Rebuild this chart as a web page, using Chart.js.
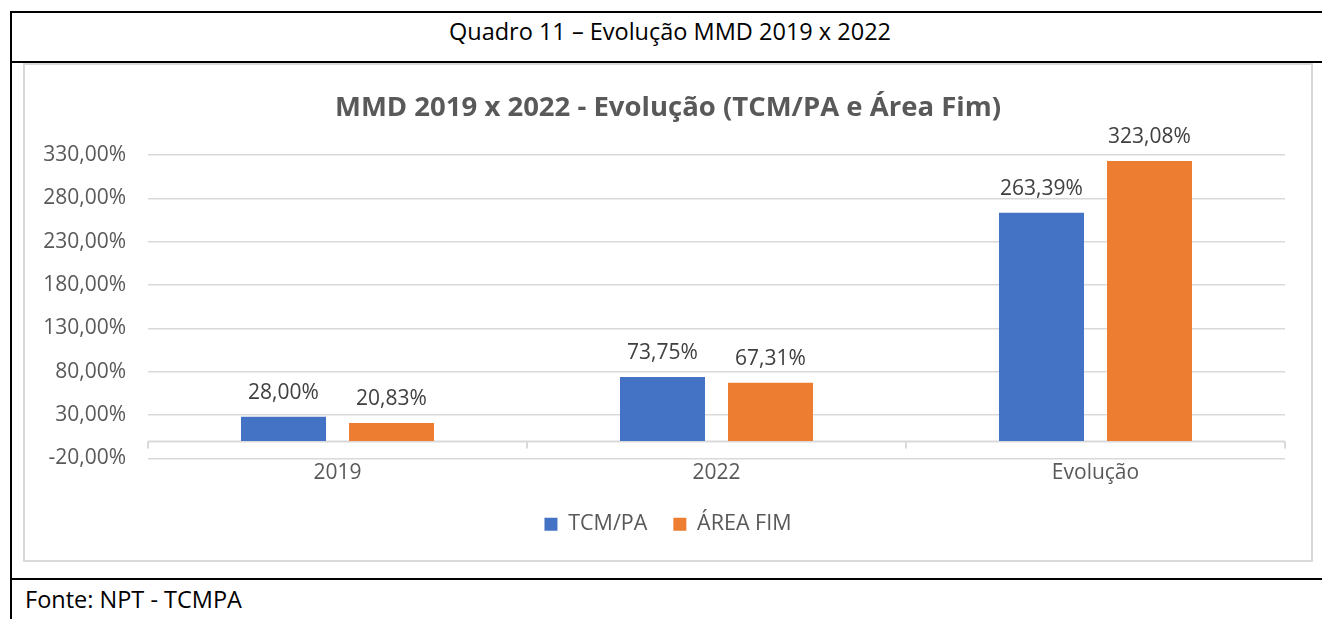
<!DOCTYPE html>
<html lang="pt-BR">
<head>
<meta charset="utf-8">
<title>Quadro 11 – Evolução MMD 2019 x 2022</title>
<script src="https://cdn.jsdelivr.net/npm/chart.js@4.4.1/dist/chart.umd.min.js"></script>
<style>
  body { margin: 0; background: #fff; font-family: "Open Sans", sans-serif; overflow: hidden; }
  .rule { position: absolute; background: #000; }
  #header { position: absolute; left: 15px; top: 15px; width: 1310px; text-align: center; font-size: 23.5px; color: #000; }
  #box { position: absolute; left: 23px; top: 63px; width: 1290px; height: 499px; border: 2px solid #d9d9d9; box-sizing: border-box; }
  #chart { position: absolute; left: 0; top: 0; }
  #fonte { position: absolute; left: 25px; top: 583px; font-size: 23.5px; color: #000; }
</style>
</head>
<body>
<div class="rule" style="left:10px;top:11px;width:2px;height:608px"></div>
<div class="rule" style="left:10px;top:11px;width:1312px;height:2px"></div>
<div class="rule" style="left:10px;top:61px;width:1312px;height:2px"></div>
<div class="rule" style="left:10px;top:578px;width:1312px;height:2px"></div>
<div id="header">Quadro 11 – Evolução MMD 2019 x 2022</div>
<div id="box"><canvas id="chart" width="1286" height="495"></canvas></div>
<div id="fonte">Fonte: NPT - TCMPA</div>

<script>
  // valores
  const categories = ['2019', '2022', 'Evolução'];
  const tcmValues = [28.00, 73.75, 263.39];
  const areaFimValues = [20.83, 67.31, 323.08];
  const seriesNames = ['TCM/PA', 'ÁREA FIM'];
  const yMin = -20;
  const yMax = 330;
  const yStep = 50;

  const FONT = '"Open Sans", sans-serif';
  const GRID = '#d9d9d9';

  function pct(v) {
    return v.toFixed(2).replace('.', ',') + '%';
  }

  // linha do zero com marcas entre as categorias
  const zeroLinePlugin = {
    id: 'zeroLine',
    beforeDatasetsDraw(chart) {
      const ctx = chart.ctx;
      const x = chart.scales.x;
      const y0 = Math.round(chart.scales.y.getPixelForValue(0)) + 0.5;
      ctx.save();
      ctx.strokeStyle = GRID;
      ctx.lineWidth = 2;
      ctx.beginPath();
      ctx.moveTo(chart.chartArea.left, y0);
      ctx.lineTo(chart.chartArea.right, y0);
      for (let i = 0; i <= categories.length; i++) {
        const px = Math.round(x.getPixelForValue(i - 0.5));
        ctx.moveTo(px, y0);
        ctx.lineTo(px, y0 + 7);
      }
      ctx.stroke();
      ctx.restore();
    }
  };

  const valueLabelPlugin = {
    id: 'valueLabels',
    afterDatasetsDraw(chart) {
      const ctx = chart.ctx;
      ctx.save();
      ctx.font = '21px ' + FONT;
      ctx.fillStyle = '#404040';
      ctx.textAlign = 'center';
      ctx.textBaseline = 'alphabetic';
      chart.data.datasets.forEach((ds, di) => {
        chart.getDatasetMeta(di).data.forEach((bar, i) => {
          ctx.fillText(pct(ds.data[i]), bar.x, bar.y - 18);
        });
      });
      ctx.restore();
    }
  };

  document.addEventListener('DOMContentLoaded', () => {
    const ctx = document.getElementById('chart').getContext('2d');
    new Chart(ctx, {
      type: 'bar',
      data: {
        labels: categories,
        datasets: [
          { label: seriesNames[0], data: tcmValues, backgroundColor: '#4472C4' },
          { label: seriesNames[1], data: areaFimValues, backgroundColor: '#ED7D31' }
        ]
      },
      options: {
        responsive: false,
        animation: false,
        categoryPercentage: 0.57,
        barPercentage: 0.787,
        layout: { padding: { left: 0, right: 0, top: 0, bottom: 15 } },
        plugins: {
          title: {
            display: true,
            text: 'MMD 2019 x 2022 - Evolução (TCM/PA e Área Fim)',
            color: '#595959',
            font: { family: FONT, size: 27.5, weight: 'bold' },
            padding: { top: 27, bottom: 30 }
          },
          legend: {
            position: 'bottom',
            labels: {
              boxWidth: 13,
              boxHeight: 13,
              color: '#595959',
              font: { family: FONT, size: 21.5 },
              padding: 26
            }
          },
          tooltip: { enabled: false }
        },
        scales: {
          x: {
            grid: { display: false, drawTicks: false },
            border: { display: false },
            ticks: { color: '#595959', font: { family: FONT, size: 21 }, padding: 2 }
          },
          y: {
            min: yMin,
            max: yMax,
            ticks: {
              stepSize: yStep,
              color: '#595959',
              font: { family: FONT, size: 21 },
              padding: 22,
              callback: v => pct(v)
            },
            grid: { color: GRID, lineWidth: 1.5, drawTicks: false },
            border: { display: false },
            afterFit: s => { s.width = 123; }
          },
          // eixo vazio à direita, só para reservar a margem
          yRight: {
            position: 'right',
            ticks: { display: false },
            grid: { display: false, drawTicks: false },
            border: { display: false },
            afterFit: s => { s.width = 26; }
          }
        }
      },
      plugins: [zeroLinePlugin, valueLabelPlugin]
    });
  });
</script>
</body>
</html>
